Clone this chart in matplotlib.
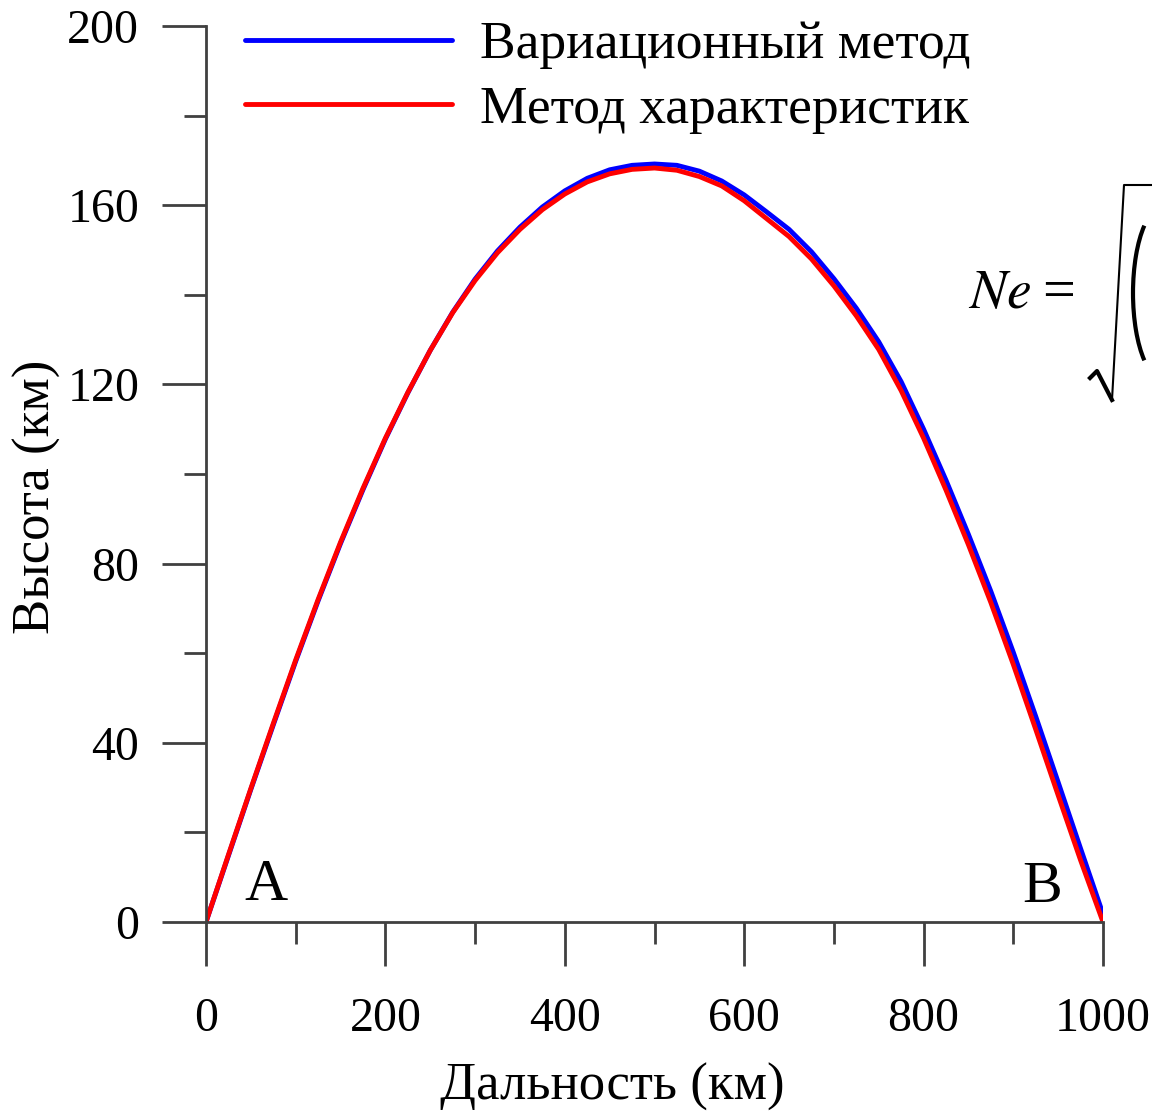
import numpy as np
import matplotlib.pyplot as plt
from matplotlib.ticker import MultipleLocator
from matplotlib.lines import Line2D
from matplotlib.patches import Arc

plt.rcParams['font.family'] = ['Liberation Serif', 'DejaVu Serif']
plt.rcParams['mathtext.fontset'] = 'stix'

# range (km) / height (km)
range_var = [0, 25, 50, 75, 100, 125, 150, 175, 200, 225, 250, 275, 300, 325, 350, 375, 400,
             425, 450, 475, 500, 525, 550, 575, 600, 625, 650, 675, 700, 725, 750, 775, 800,
             825, 850, 875, 900, 925, 950, 975, 1003]
height_var = [0, 14.8, 29.6, 44.0, 58.2, 71.7, 84.5, 96.5, 107.8, 118.1, 127.6, 136.1, 143.5,
              149.8, 155.1, 159.6, 163.2, 166.0, 167.9, 168.9, 169.2, 168.9, 167.6, 165.4,
              162.3, 158.5, 154.6, 149.6, 143.6, 137.0, 129.5, 120.6, 110.0, 98.6, 86.5,
              73.8, 60.2, 45.9, 31.2, 16.4, 0]
range_char = [0, 25, 50, 75, 100, 125, 150, 175, 200, 225, 250, 275, 300, 325, 350, 375, 400,
              425, 450, 475, 500, 525, 550, 575, 600, 625, 650, 675, 700, 725, 750, 775, 800,
              825, 850, 875, 900, 925, 950, 975, 1000]
height_char = [0, 15.0, 29.8, 44.3, 58.5, 72.0, 84.8, 96.8, 108.0, 118.2, 127.6, 136.0, 143.2,
               149.4, 154.6, 159.0, 162.5, 165.2, 167.0, 168.0, 168.3, 167.8, 166.4, 164.3,
               161.0, 157.0, 153.0, 148.0, 142.0, 135.3, 127.8, 118.6, 108.0, 96.4, 84.2,
               71.3, 57.5, 43.0, 28.3, 13.8, 0]
names = ['Вариационный метод', 'Метод характеристик']
ytick_vals = [0, 40, 80, 120, 160, 200]
xtick_vals = [0, 200, 400, 600, 800, 1000]

W, H = 1152, 1114
fig = plt.figure(figsize=(W / 100, H / 100), dpi=100)
ax = fig.add_axes([206 / W, 1 - 922 / H, 897 / W, 896 / H])

ax.plot(range_var, height_var, color='#0000ff', lw=3.5, label=names[0],
        solid_capstyle='round', solid_joinstyle='round')
ax.plot(range_char, height_char, color='#ff0000', lw=3.5, label=names[1],
        solid_capstyle='round', solid_joinstyle='round')

ax.set_xlim(0, 1000)
ax.set_ylim(0, 200)
ax.set_xticks(xtick_vals)
ax.set_yticks(ytick_vals)
ax.xaxis.set_minor_locator(MultipleLocator(100))
ax.yaxis.set_minor_locator(MultipleLocator(20))
for s in ['top', 'right']:
    ax.spines[s].set_visible(False)
for s in ['left', 'bottom']:
    ax.spines[s].set_color('#404040')
    ax.spines[s].set_linewidth(2)
ax.tick_params(which='major', direction='out', length=32, width=2, color='#404040',
               labelsize=34.5)
ax.tick_params(which='minor', direction='out', length=16, width=2, color='#404040')
ax.tick_params(axis='y', which='major', pad=16)
ax.tick_params(axis='x', which='major', pad=22)

ax.set_xlabel('Дальность (км)', fontsize=38, va='center')
ax.xaxis.set_label_coords(0.4526, -0.184)
ax.set_ylabel('Высота (км)', fontsize=38, va='center')
ax.yaxis.set_label_coords(-0.188, 0.474)

ax.text(67, 4.9, 'A', fontsize=43, ha='center', va='baseline')
ax.text(932, 4.5, 'B', fontsize=43, ha='center', va='baseline')

ax.legend(loc='upper left', bbox_to_anchor=(245 / W, 1 - 21 / H),
          bbox_transform=fig.transFigure, frameon=False, fontsize=38.5,
          handlelength=3.87, handletextpad=0.52, borderpad=0, borderaxespad=0,
          labelspacing=0.3)

# formula cut by the right edge
fig.text(968 / W, 1 - 308 / H, r'$Ne$', fontsize=40, va='baseline')
fig.text(1042 / W, 1 - 308 / H, '=', fontsize=42, va='baseline')
fig.add_artist(Line2D([1090 / W, 1097 / W, 1112 / W], [1 - 378 / H, 1 - 371 / H, 1 - 400 / H],
                      transform=fig.transFigure, color='black', lw=3))
fig.add_artist(Line2D([1112 / W, 1124 / W, 1.0], [1 - 400 / H, 1 - 185 / H, 1 - 185 / H],
                      transform=fig.transFigure, color='black', lw=1.5))
fig.add_artist(Arc((1163 / W, 1 - 293 / H), 60 / W, 172 / H, theta1=105, theta2=255,
                   transform=fig.transFigure, color='black', lw=3))

fig.savefig('out.png', dpi=100)
